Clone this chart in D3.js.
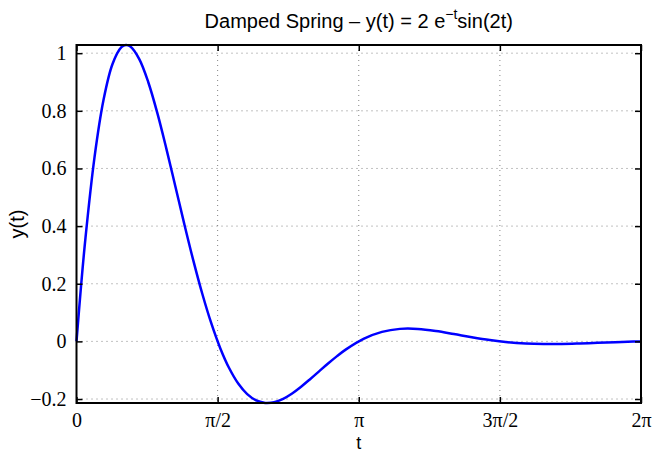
<!DOCTYPE html>
<html>
<head>
<meta charset="utf-8">
<script src="https://cdn.jsdelivr.net/npm/d3@7"></script>
<style>
  body { margin: 0; background: #fff; }
  svg { display: block; }
</style>
</head>
<body>
<div id="chart"></div>
<script>
// values
const tValues = [0, 0.05, 0.1, 0.2, 0.3, 0.4, 0.5, 0.55, 0.6, 0.7, 0.8, 0.9, 1.0, 1.1, 1.2, 1.3, 1.4, 1.5,
  1.6, 1.7, 1.8, 1.9, 2.0, 2.1, 2.12, 2.2, 2.3, 2.4, 2.5, 2.6, 2.7, 2.8, 2.9, 3.0, 3.2, 3.4, 3.6, 3.8,
  4.0, 4.2, 4.4, 4.6, 4.8, 5.0, 5.2, 5.4, 5.6, 5.8, 6.0, 6.2, 6.2832];
const yValues = [0, 0.1899, 0.3595, 0.6377, 0.8366, 0.9617, 1.0208, 1.0284, 1.0230, 0.9787, 0.8983, 0.7919,
  0.6690, 0.5383, 0.4069, 0.2810, 0.1652, 0.0630, -0.0236, -0.0934, -0.1463, -0.1830, -0.2048, -0.2135,
  -0.2138, -0.2109, -0.1993, -0.1807, -0.1574, -0.1312, -0.1039, -0.0768, -0.0511, -0.0278, 0.0095, 0.0330,
  0.0434, 0.0433, 0.0362, 0.0256, 0.0144, 0.0045, -0.0029, -0.0073, -0.0091, -0.0089, -0.0072, -0.0050,
  -0.0027, -0.0007, 0];
const xTicks = [0, Math.PI / 2, Math.PI, 3 * Math.PI / 2, 2 * Math.PI];
const xTickLabels = ["0", "\u03c0/2", "\u03c0", "3\u03c0/2", "2\u03c0"];
const yTicks = [-0.2, 0, 0.2, 0.4, 0.6, 0.8, 1];
const yTickLabels = ["\u22120.2", "0", "0.2", "0.4", "0.6", "0.8", "1"];

const W = 654, H = 453;
const margin = {left: 76.5, right: 13, top: 45, bottom: 50};

const svg = d3.select("#chart").append("svg")
    .attr("width", W)
    .attr("height", H);

const x = d3.scaleLinear()
    .domain([0, 2 * Math.PI])
    .range([margin.left, W - margin.right]);
const y = d3.scaleLinear()
    .domain([d3.min(yValues), d3.max(yValues)])
    .range([H - margin.bottom, margin.top]);

const x0 = x.range()[0], x1 = x.range()[1];
const y0 = y.range()[0], y1 = y.range()[1];

// grid (dotted)
const grid = svg.append("g").attr("stroke", "#666").attr("stroke-width", 0.8)
    .attr("stroke-dasharray", "1,4");
grid.selectAll(".gx").data(xTicks.slice(1, -1)).join("line")
    .attr("x1", d => x(d)).attr("x2", d => x(d))
    .attr("y1", y1).attr("y2", y0);
grid.selectAll(".gy").data(yTicks).join("line")
    .attr("x1", x0).attr("x2", x1)
    .attr("y1", d => y(d)).attr("y2", d => y(d));

// curve
const data = tValues.map((t, i) => ({t, v: yValues[i]}));
const line = d3.line()
    .x(d => x(d.t))
    .y(d => y(d.v))
    .curve(d3.curveCatmullRom);
svg.append("path")
    .datum(data)
    .attr("d", line)
    .attr("fill", "none")
    .attr("stroke", "#0000ff")
    .attr("stroke-width", 2.5);

// axes with inward ticks on all sides
const tick = 6;
const axisBottom = d3.axisBottom(x).tickValues(xTicks).tickSizeInner(-tick).tickSizeOuter(0)
    .tickFormat((d, i) => xTickLabels[i]);
const axisTop = d3.axisTop(x).tickValues(xTicks).tickSizeInner(-tick).tickSizeOuter(0).tickFormat("");
const axisLeft = d3.axisLeft(y).tickValues(yTicks).tickSizeInner(-tick).tickSizeOuter(0)
    .tickFormat((d, i) => yTickLabels[i]).tickPadding(10);
const axisRight = d3.axisRight(y).tickValues(yTicks).tickSizeInner(-tick).tickSizeOuter(0).tickFormat("");

function styleAxis(g) {
  g.select(".domain").remove();
  g.selectAll(".tick line").attr("stroke", "#000").attr("stroke-width", 1.5);
  g.selectAll(".tick text")
      .attr("fill", "#000")
      .style("font-family", "'Liberation Serif', 'Times New Roman', serif")
      .style("font-size", "20px");
}

svg.append("g").attr("transform", `translate(0,${y0})`).call(axisBottom).call(styleAxis)
    .selectAll(".tick text").attr("dy", null).attr("y", 24);
svg.append("g").attr("transform", `translate(0,${y1})`).call(axisTop).call(styleAxis);
svg.append("g").attr("transform", `translate(${x0},0)`).call(axisLeft).call(styleAxis);
svg.append("g").attr("transform", `translate(${x1},0)`).call(axisRight).call(styleAxis);

// frame
svg.append("rect")
    .attr("x", x0).attr("y", y1)
    .attr("width", x1 - x0).attr("height", y0 - y1)
    .attr("fill", "none")
    .attr("stroke", "#000")
    .attr("stroke-width", 2);

// title and labels
const sans = "'Liberation Sans', Arial, Helvetica, sans-serif";
const title = svg.append("text")
    .attr("x", (x0 + x1) / 2).attr("y", 28)
    .attr("text-anchor", "middle")
    .style("font-family", sans).style("font-size", "20px");
title.append("tspan").text("Damped Spring \u2013 y(t) = 2 e");
title.append("tspan").attr("dy", -9).style("font-size", "14px").text("\u2212t");
title.append("tspan").attr("dy", 9).text("sin(2t)");

svg.append("text")
    .attr("x", (x0 + x1) / 2).attr("y", 449)
    .attr("text-anchor", "middle")
    .style("font-family", sans).style("font-size", "18px")
    .text("t");

svg.append("text")
    .attr("transform", `translate(24,${(y0 + y1) / 2}) rotate(-90)`)
    .attr("text-anchor", "middle")
    .style("font-family", sans).style("font-size", "20px")
    .text("y(t)");
</script>
</body>
</html>
